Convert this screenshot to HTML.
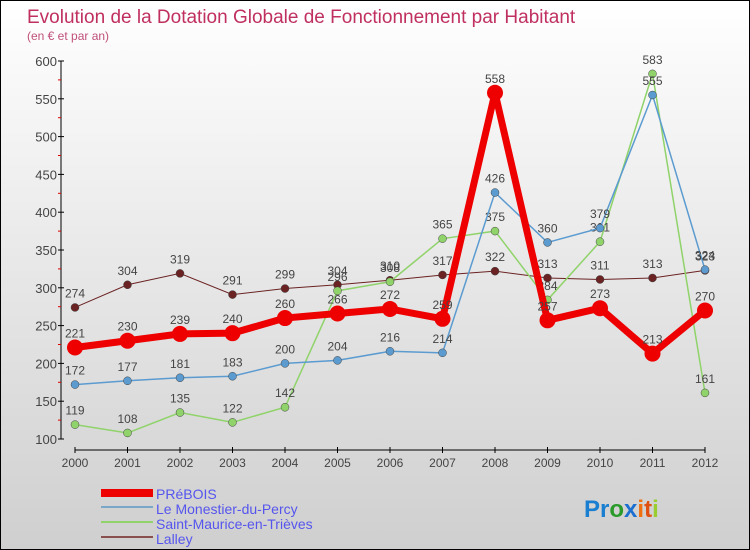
<!DOCTYPE html>
<html><head><meta charset="utf-8"><style>
body{margin:0}
#c{width:748px;height:548px;border:1px solid #000;background:linear-gradient(#fff,#cfcfcf);position:relative;font-family:"Liberation Sans",sans-serif}
</style></head><body>
<div id="c">
<svg id="s" width="748" height="548" style="position:absolute;left:0;top:0">
<text x="26" y="22" font-size="19" fill="#c0305f">Evolution de la Dotation Globale de Fonctionnement par Habitant</text>
<text x="26" y="39" font-size="12" fill="#c0507a">(en € et par an)</text>
<g id="axes"></g><g id="series"></g>
<g>
<rect x="100" y="488" width="52" height="8" fill="#e00"/>
<rect x="100" y="505" width="52" height="2" fill="#7aa6c8"/>
<rect x="100" y="520" width="52" height="2" fill="#8fd36a"/>
<rect x="100" y="535" width="52" height="2" fill="#8a5050"/>
<text x="155" y="498" font-size="14" fill="#5555ee">PRéBOIS</text>
<text x="155" y="513" font-size="14" fill="#5555ee">Le Monestier-du-Percy</text>
<text x="155" y="528" font-size="14" fill="#5555ee">Saint-Maurice-en-Trièves</text>
<text x="155" y="543" font-size="14" fill="#5555ee">Lalley</text>
</g>
<text x="583" y="516" font-size="24" font-weight="bold"><tspan fill="#1a7fd0">Pr</tspan><tspan fill="#2a9a2a">o</tspan><tspan fill="#1a6fd0">x</tspan><tspan fill="#f07010">i</tspan><tspan fill="#e05010">t</tspan><tspan fill="#9acd32">i</tspan></text>
</svg></div>
<script>
const years=[2000,2001,2002,2003,2004,2005,2006,2007,2008,2009,2010,2011,2012];
const prebois=[221,230,239,240,260,266,272,259,558,257,273,213,270];
const monestier=[172,177,181,183,200,204,216,214,426,360,379,555,324];
const stmaurice=[119,108,135,122,142,296,308,365,375,284,361,583,161];
const lalley=[274,304,319,291,299,304,310,317,322,313,311,313,323];
const yTicks=[100,150,200,250,300,350,400,450,500,550,600];
const NS="http://www.w3.org/2000/svg";
const X=i=>74+i*52.5, Y=v=>438-(v-100)*0.756;
function mk(t,a,p){const e=document.createElementNS(NS,t);for(const k in a)e.setAttribute(k,a[k]);p.appendChild(e);return e;}
const ax=document.getElementById('axes');
let e=mk('line',{x1:60,y1:Y(600),x2:60,y2:Y(100),stroke:'#000'},ax);

e=mk('line',{x1:X(0),y1:449,x2:X(12),y2:449,stroke:'#000'},ax);

yTicks.forEach((v,i)=>{mk('line',{x1:57,y1:Y(v),x2:63,y2:Y(v),stroke:'#000'},ax);
 if(i<yTicks.length-1)mk('line',{x1:57,y1:Y(v+25),x2:60,y2:Y(v+25),stroke:'#d00'},ax);
 const t=mk('text',{x:56,y:Y(v)+5,'text-anchor':'end','font-size':13,fill:'#444'},ax);t.textContent=v;
 });
years.forEach((y,i)=>{mk('line',{x1:X(i),y1:446,x2:X(i),y2:452,stroke:'#000'},ax);
 const t=mk('text',{x:X(i),y:466,'text-anchor':'middle','font-size':12,fill:'#444'},ax);t.textContent=y;
 });
const sg=document.getElementById('series');
function series(d,col,w,r,name){const g=mk('g',{},sg);
 
 mk('polyline',{points:d.map((v,i)=>X(i)+','+Y(v)).join(' '),fill:'none',stroke:col,'stroke-width':w},g);
 d.forEach((v,i)=>{const c=mk('circle',{cx:X(i),cy:Y(v),r:r,fill:col,stroke:w>3?col:'#444','stroke-width':w>3?0:0.5},g);
  
  const t=mk('text',{x:X(i),y:Y(v)-10,'text-anchor':'middle','font-size':12,fill:'#444'},g);t.textContent=v;
  });}
series(lalley,'#6b2222',1,4,'series-lalley');
series(stmaurice,'#8fd36a',1.5,4,'series-saint-maurice');
series(monestier,'#5b9bd0',1.5,4,'series-monestier');
series(prebois,'#ee0000',7,8,'series-prebois');
</script>
</body></html>
